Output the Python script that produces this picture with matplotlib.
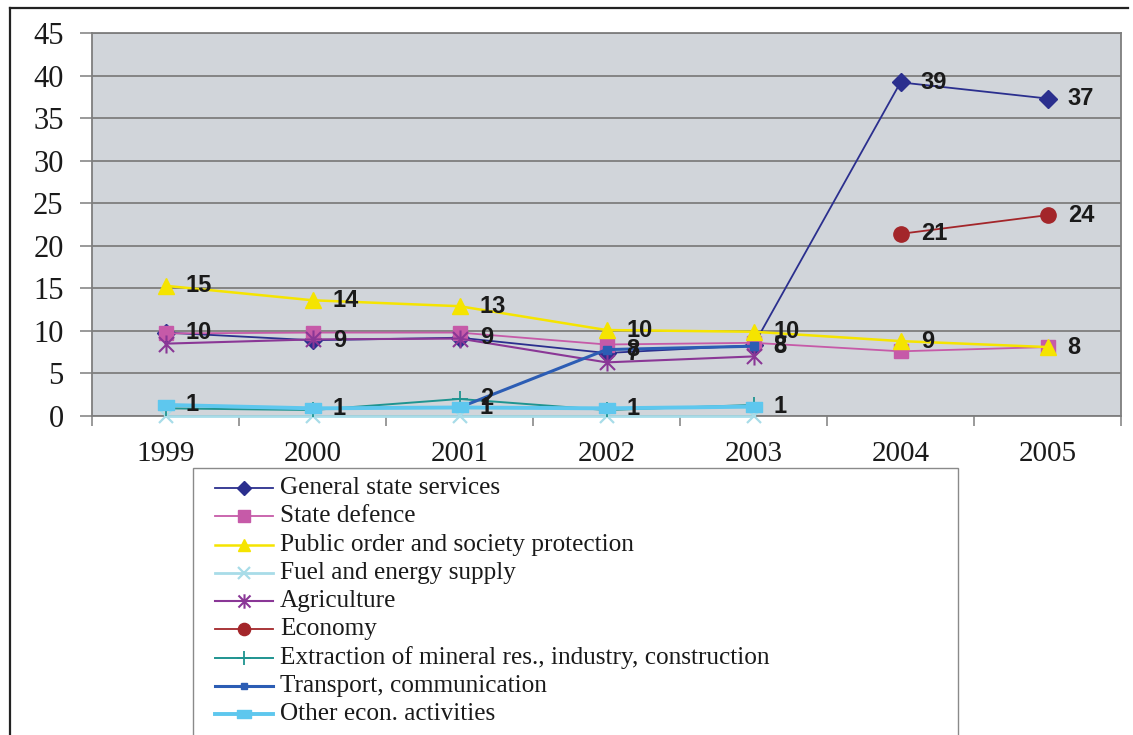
import numpy as np
import matplotlib
matplotlib.use("Agg")
import matplotlib.pyplot as plt
from matplotlib.lines import Line2D
from matplotlib.patches import Rectangle
from matplotlib.path import Path

# ---- data -------------------------------------------------------------
years = ["1999", "2000", "2001", "2002", "2003", "2004", "2005"]
nan = np.nan

general_services = [9.8, 8.9, 9.2, 7.4, 8.3, 39.2, 37.3]
state_defence = [9.7, 9.8, 9.8, 8.4, 8.6, 7.6, 8.1]
public_order = [15.3, 13.6, 12.9, 10.1, 9.9, 8.8, 8.1]
fuel_energy = [0.05, 0.05, 0.05, 0.05, 0.05, nan, nan]
agriculture = [8.5, 9.0, 9.1, 6.3, 7.0, nan, nan]
economy = [nan, nan, nan, nan, nan, 21.4, 23.6]
extraction = [0.9, 0.7, 2.0, 0.7, 1.3, nan, nan]
transport = [nan, nan, 1.0, 7.8, 8.2, nan, nan]
other_econ = [1.3, 0.9, 1.0, 0.9, 1.1, nan, nan]

# which points carry a value label
label_all = [True] * 7
label_none = [False] * 7
extraction_labels = [False, False, True, False, False, False, False]
transport_labels = [False, False, False, True, True, False, False]

series_names = [
    "General state services",
    "State defence",
    "Public order and society protection",
    "Fuel and energy supply",
    "Agriculture",
    "Economy",
    "Extraction of mineral res., industry, construction",
    "Transport, communication",
    "Other econ. activities",
]
y_ticks = [0, 5, 10, 15, 20, 25, 30, 35, 40, 45]

# ---- custom markers ---------------------------------------------------
star_marker = Path(
    [(-0.5, -0.5), (0.5, 0.5), (-0.5, 0.5), (0.5, -0.5), (0, -0.6), (0, 0.6)],
    [Path.MOVETO, Path.LINETO, Path.MOVETO, Path.LINETO, Path.MOVETO, Path.LINETO],
)
wide_marker = Path(
    [(-0.5, -0.28), (0.5, -0.28), (0.5, 0.28), (-0.5, 0.28), (-0.5, -0.28)],
    [Path.MOVETO, Path.LINETO, Path.LINETO, Path.LINETO, Path.CLOSEPOLY],
)

# (values, color, marker, markersize, line width, marker edge width, label mask)
styles = [
    (general_services, "#2B2F8E", "D", 9, 1.3, 1.0, label_all),
    (state_defence, "#C65AA8", "s", 10.5, 1.3, 1.0, label_none),
    (public_order, "#F5E400", "^", 11, 1.8, 1.0, label_all),
    (fuel_energy, "#A8DCE8", "x", 10, 2.0, 1.6, label_none),
    (agriculture, "#8A3796", star_marker, 13, 1.5, 1.5, label_none),
    (economy, "#A3262A", "o", 11, 1.3, 1.0, label_all),
    (extraction, "#1F9490", "+", 12, 1.4, 1.3, extraction_labels),
    (transport, "#2C5DB4", "s", 5.5, 2.2, 1.0, transport_labels),
    (other_econ, "#5EC7EE", wide_marker, 12, 2.8, 1.0, label_all),
]

serif = "Liberation Serif"
sans = "Liberation Sans"

W, H = 1133, 735
fig = plt.figure(figsize=(W / 100, H / 100), dpi=100)


def fx(px):
    return px / W


def fy(py):
    return 1 - py / H


ax = fig.add_axes([fx(92), fy(416), fx(1121) - fx(92), fy(33) - fy(416)])
ax.set_facecolor("#D1D5DA")

x = np.arange(len(years))
for vals, color, marker, ms, lw, mew, mask in styles:
    clip = vals is not fuel_energy
    ax.plot(x, vals, color=color, lw=lw, marker=marker, ms=ms,
            mfc=color, mec=color, mew=mew, clip_on=clip, zorder=3)
    for xi, v, show in zip(x, vals, mask):
        if not show or np.isnan(v):
            continue
        ax.annotate(f"{round(v)}", (xi, v), xytext=(14.5, 0),
                    textcoords="offset points", ha="left", va="center",
                    fontsize=17, fontweight="bold", family=sans,
                    color="#1A1A1A", zorder=5)

ax.set_xlim(-0.5, len(years) - 0.5)
ax.set_ylim(0, 45)
ax.set_yticks(y_ticks)
ax.set_yticklabels([str(t) for t in y_ticks], family=serif, fontsize=22,
                   color="#1A1A1A")
ax.yaxis.grid(True, color="#7E7E7E", lw=1.3)
ax.set_axisbelow(True)

ax.set_xticks(x)
ax.set_xticklabels(years, family=serif, fontsize=21, color="#1A1A1A")
ax.set_xticks(np.arange(-0.5, len(years)), minor=True)
ax.tick_params(axis="x", which="major", length=0, pad=18)
ax.tick_params(axis="x", which="minor", length=7, width=1.1,
               color="#7E7E7E", direction="out")
ax.tick_params(axis="y", length=8.5, width=1.1, color="#7E7E7E", pad=12)
for sp in ax.spines.values():
    sp.set_color("#7E7E7E")
    sp.set_linewidth(1.3)

# ---- outer frame --------------------------------------------------------
fig.add_artist(Line2D([fx(10), fx(10)], [fy(8), fy(740)], color="#222222",
                      lw=1.6, transform=fig.transFigure))
fig.add_artist(Line2D([fx(10), fx(1128)], [fy(8), fy(8)], color="#222222",
                      lw=1.6, transform=fig.transFigure))

# ---- legend -------------------------------------------------------------
fig.add_artist(Rectangle((fx(193), fy(745)), fx(958) - fx(193),
                         fy(468) - fy(745), transform=fig.transFigure,
                         facecolor="white", edgecolor="#8A8A8A", lw=1.0))
row_y = 488
for name, (vals, color, marker, ms, lw, mew, _) in zip(series_names, styles):
    fig.add_artist(Line2D([fx(215), fx(273)], [fy(row_y), fy(row_y)],
                          color=color, lw=max(lw, 1.3),
                          transform=fig.transFigure))
    fig.add_artist(Line2D([fx(244)], [fy(row_y)], color=color, marker=marker,
                          ms=ms * 0.8, mfc=color, mec=color, mew=mew,
                          lw=0, transform=fig.transFigure))
    fig.text(fx(280), fy(row_y), name, family=serif, fontsize=18.2,
             va="center", ha="left", color="#1A1A1A")
    row_y += 28.3

fig.savefig("out.png", dpi=100)
